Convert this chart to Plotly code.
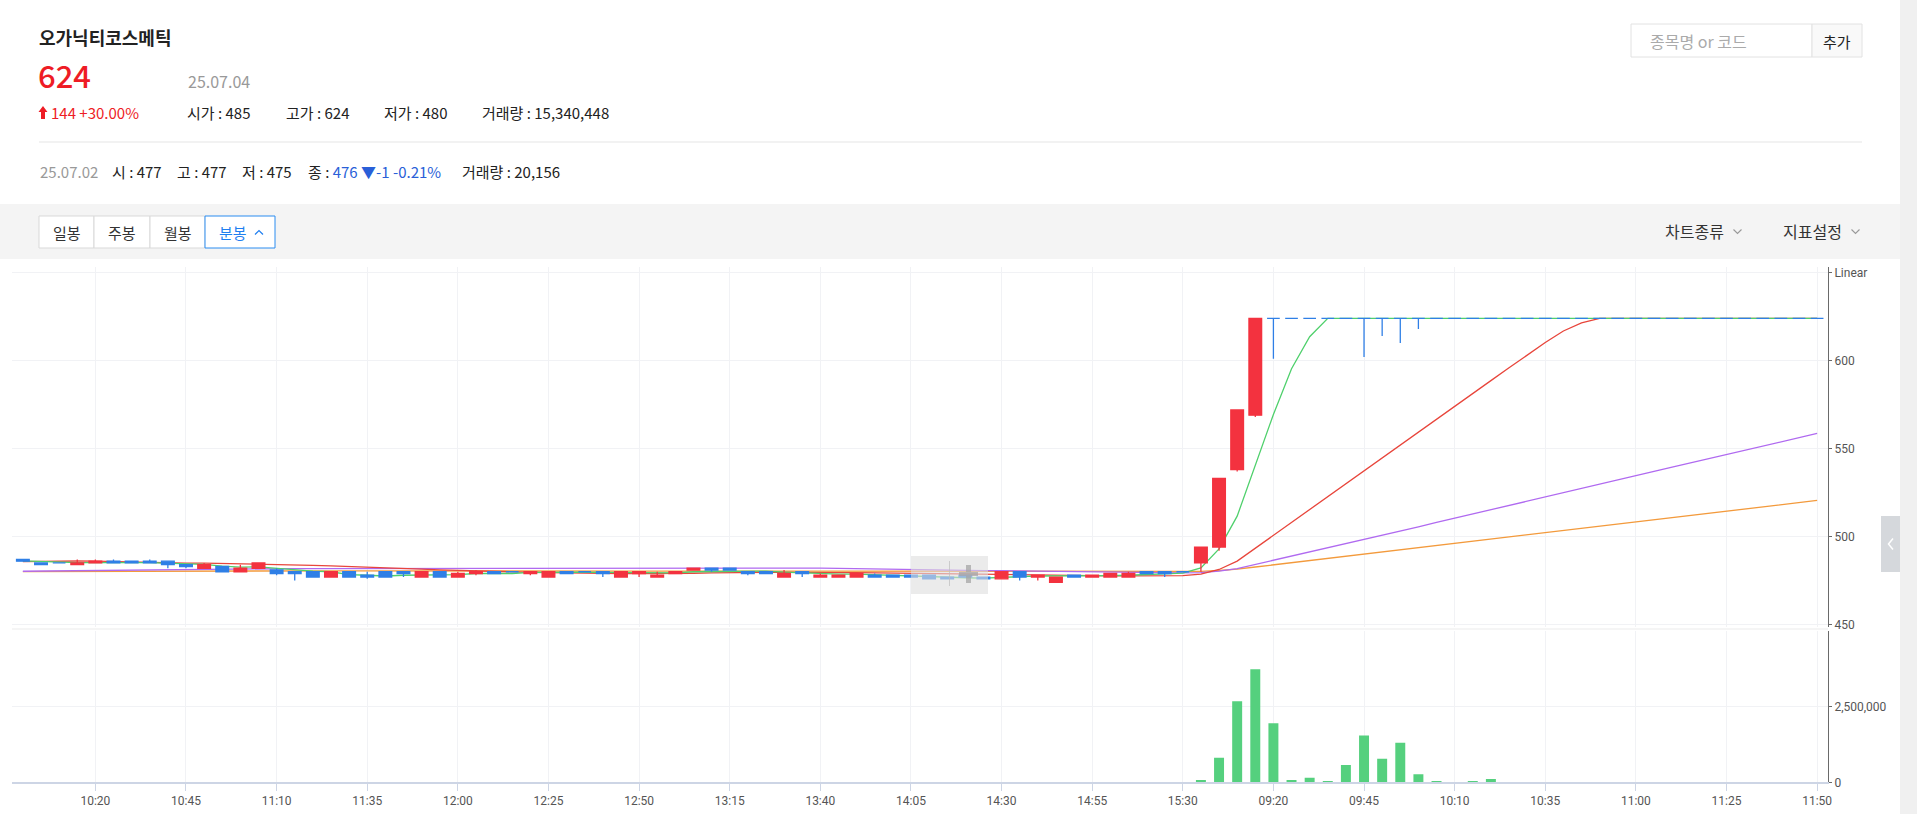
import plotly.graph_objects as go
import pandas as pd

W, H = 1917, 814
KR = "Noto Sans CJK KR"
NUM = "Roboto"

# ---------------- data ----------------
times = [
    "10:00", "10:05", "10:10", "10:15", "10:20", "10:25", "10:30", "10:35", "10:40", "10:45", "10:50", "10:55",
    "11:00", "11:05", "11:10", "11:15", "11:20", "11:25", "11:30", "11:35", "11:40", "11:45", "11:50", "11:55",
    "12:00", "12:05", "12:10", "12:15", "12:20", "12:25", "12:30", "12:35", "12:40", "12:45", "12:50", "12:55",
    "13:00", "13:05", "13:10", "13:15", "13:20", "13:25", "13:30", "13:35", "13:40", "13:45", "13:50", "13:55",
    "14:00", "14:05", "14:10", "14:15", "14:20", "14:25", "14:30", "14:35", "14:40", "14:45", "14:50", "14:55",
    "15:00", "15:05", "15:10", "15:15", "15:30",
    "09:00", "09:05", "09:10", "09:15", "09:20", "09:25", "09:30", "09:35", "09:40", "09:45", "09:50", "09:55",
    "10:00", "10:05", "10:10", "10:15", "10:20", "10:25", "10:30", "10:35", "10:40", "10:45", "10:50", "10:55",
    "11:00", "11:05", "11:10", "11:15", "11:20", "11:25", "11:30", "11:35", "11:40", "11:45", "11:50",
]

open_ = [
    487, 485, 485, 484, 485, 486, 486, 486, 486, 484,
    482, 483, 480, 482, 481, 480, 480, 477, 480, 478,
    480, 480, 477, 480, 477, 479, 480, 480, 479, 477,
    480, 480, 480, 477, 479, 477, 479, 481, 482, 482,
    480, 480, 477, 480, 477, 477, 477, 478, 478, 478,
    478, 477, 478, 477, 476, 480, 477, 474, 478, 477,
    477, 477, 480, 480, 480, 485, 494, 538, 569, 624,
    624, 624, 624, 624, 624, 624, 624, 624, 624, 624,
    624, 624, 624, 624, 624, 624, 624, 624, 624, 624,
    624, 624, 624, 624, 624, 624, 624, 624, 624, 624,
]
high = [
    487, 485, 485, 487, 487, 487, 486, 487, 486, 484,
    485, 483, 484, 485, 482, 480, 480, 480, 480, 480,
    480, 480, 480, 480, 480, 481, 480, 480, 480, 480,
    480, 480, 480, 480, 480, 480, 480, 482, 482, 482,
    480, 480, 481, 480, 479, 478, 479, 479, 478, 478,
    478, 477, 478, 477, 480, 480, 478, 477, 478, 478,
    479, 480, 480, 480, 480, 494, 533, 572, 624, 624,
    624, 624, 624, 624, 624, 624, 624, 624, 624, 624,
    624, 624, 624, 624, 624, 624, 624, 624, 624, 624,
    624, 624, 624, 624, 624, 624, 624, 624, 624, 624,
]
low = [
    486, 484, 485, 484, 485, 485, 485, 485, 482, 482,
    482, 480, 480, 482, 478, 475, 477, 477, 477, 476,
    477, 477, 477, 477, 477, 478, 479, 480, 478, 477,
    479, 480, 477, 477, 477, 477, 479, 481, 480, 481,
    478, 479, 477, 477, 477, 477, 477, 477, 477, 477,
    476, 476, 477, 476, 476, 475, 475, 474, 477, 477,
    477, 477, 479, 477, 480, 480, 492, 537, 568, 601,
    624, 624, 624, 624, 602, 614, 610, 618, 624, 624,
    624, 624, 624, 624, 624, 624, 624, 624, 624, 624,
    624, 624, 624, 624, 624, 624, 624, 624, 624, 624,
]
close = [
    486, 484, 485, 485, 486, 485, 485, 485, 484, 483,
    484, 480, 482, 485, 479, 479, 477, 480, 477, 477,
    477, 479, 480, 477, 479, 480, 479, 480, 480, 480,
    479, 480, 479, 480, 480, 478, 480, 482, 481, 481,
    479, 479, 479, 479, 478, 478, 479, 477, 477, 477,
    476, 476, 477, 476, 480, 477, 478, 477, 477, 478,
    479, 479, 479, 479, 480, 494, 533, 572, 624, 624,
    624, 624, 624, 624, 624, 624, 624, 624, 624, 624,
    624, 624, 624, 624, 624, 624, 624, 624, 624, 624,
    624, 624, 624, 624, 624, 624, 624, 624, 624, 624,
]
volume = [
    2100, 800, 300, 1200, 1500, 900, 400, 1100, 2600, 1400,
    1700, 3100, 1900, 2200, 2800, 1600, 2400, 1800, 2100, 1200,
    1500, 900, 1300, 1700, 1100, 800, 600, 200, 700, 1400,
    500, 200, 600, 1200, 900, 1000, 800, 1500, 700, 900,
    1100, 600, 1200, 800, 900, 700, 800, 500, 400, 600,
    900, 500, 700, 400, 1600, 1800, 1000, 1400, 600, 800,
    1100, 900, 500, 700, 1200, 80000, 810000, 2680000, 3740000, 1950000,
    80000, 150000, 20000, 570000, 1550000, 780000, 1310000, 270000, 15000, 10000,
    12000, 110000, 8000, 9000, 5000, 6000, 4000, 3000, 5000, 4000,
    6000, 3000, 4000, 2000, 3000, 5000, 4000, 3000, 2000, 3000,
]
# closes of the bars before the visible window (estimated from the MA levels at the left edge)
prior_close = [
    479, 480, 481, 480, 479, 480, 481, 482, 481, 480,
    479, 478, 479, 480, 481, 480, 479, 480, 481, 480,
    480, 479, 480, 481, 482, 481, 480, 479, 480, 480,
    481, 480, 479, 478, 479, 480, 481, 480, 480, 479,
    480, 481, 480, 479, 480, 481, 480, 479, 480, 480,
    479, 480, 481, 480, 479, 480, 481, 480, 479, 480,
    477, 478, 477, 476, 477, 478, 479, 478, 477, 476,
    477, 478, 478, 477, 477, 478, 479, 478, 477, 478,
    477, 476, 477, 478, 478, 477, 478, 479, 478, 477,
    478, 477, 477, 478, 479, 478, 477, 478, 477, 478,
    480, 482, 485, 488, 490, 491, 489, 487, 486, 485,
    484, 485, 484, 483, 485, 486, 487, 486, 486,
]
ma_periods = [120, 60, 20, 5]
ma_colors = ["#f39a3c", "#b06af0", "#e8463c", "#4fd06c"]

price_ticks = [450, 500, 550, 600, 650]
price_ticktext = ["450", "500", "550", "600", "Linear"]
vol_ticks = [0, 2500000]
vol_ticktext = ["0", "2,500,000"]

# ---------------- styling ----------------
RED = "#f3323f"
BLUE = "#2f7fe6"
VGREEN = "#55d07e"
GRID = "#f1f2f5"
PRICE_RANGE = [448.6, 653.5]
PRICE_DOMAIN = [1 - 627 / H, 1 - 266.5 / H]

x = list(range(len(times)))
up = [i for i in x if close[i] > open_[i]]
dn = [i for i in x if close[i] <= open_[i]]

fig = go.Figure()

series = pd.Series(prior_close + close, dtype=float)
n0 = len(prior_close)
for p, c in zip(ma_periods, ma_colors):
    ma = series.rolling(p).mean().iloc[n0:].tolist()
    fig.add_trace(go.Scatter(x=x, y=ma, mode="lines", line=dict(color=c, width=1.3),
                             hoverinfo="skip", showlegend=False, xaxis="x", yaxis="y"))


def candle(idx, color):
    return go.Candlestick(
        x=idx,
        open=[open_[i] for i in idx], high=[high[i] for i in idx],
        low=[low[i] for i in idx], close=[close[i] for i in idx],
        increasing=dict(line=dict(color=color, width=1.3), fillcolor=color),
        decreasing=dict(line=dict(color=color, width=1.3), fillcolor=color),
        whiskerwidth=0, hoverinfo="skip", showlegend=False,
        xaxis="x", yaxis="y3",
    )


fig.add_trace(candle(up, RED))
fig.add_trace(candle(dn, BLUE))

fig.add_trace(go.Bar(x=x, y=volume, width=0.55, marker=dict(color=VGREEN, line=dict(width=0)),
                     hoverinfo="skip", showlegend=False, xaxis="x2", yaxis="y2"))

tick_idx = x[4::5]
tick_txt = [times[i] for i in tick_idx]

XD = [12 / W, 1828 / W]
fig.update_layout(
    width=W, height=H, autosize=False,
    margin=dict(l=0, r=0, t=0, b=0, pad=0),
    paper_bgcolor="white", plot_bgcolor="white",
    boxgap=0.3, boxgroupgap=0,
    xaxis=dict(domain=XD, range=[-0.6, 99.6], anchor="y", tickvals=tick_idx, ticktext=tick_txt,
               showticklabels=False, ticks="", showgrid=True, gridcolor=GRID, zeroline=False,
               showline=False, automargin=False, rangeslider=dict(visible=False)),
    xaxis2=dict(domain=XD, range=[-0.6, 99.6], anchor="y2", matches="x", tickvals=tick_idx,
                ticktext=tick_txt, ticks="outside", ticklen=7, tickcolor="#cdd5e5",
                showline=True, linecolor="#cdd5e5", linewidth=1.5, showgrid=True, gridcolor=GRID,
                zeroline=False, automargin=False, tickfont=dict(family=NUM, size=12, color="#555")),
    yaxis=dict(domain=PRICE_DOMAIN, range=PRICE_RANGE, side="right", anchor="x",
               tickvals=price_ticks, ticktext=price_ticktext, showline=True, linecolor="#6a6a6a",
               ticks="outside", ticklen=3, tickcolor="#6a6a6a", showgrid=True, gridcolor=GRID,
               zeroline=False, automargin=False, tickfont=dict(family=NUM, size=12, color="#555")),
    yaxis3=dict(overlaying="y", range=PRICE_RANGE, side="right", anchor="x", visible=False,
                showgrid=False, zeroline=False, automargin=False),
    yaxis2=dict(domain=[1 - 782.3 / H, 1 - 631 / H], range=[0, 5000000], side="right", anchor="x2",
                tickvals=vol_ticks, ticktext=vol_ticktext, showline=True, linecolor="#6a6a6a",
                ticks="outside", ticklen=3, tickcolor="#6a6a6a", showgrid=True, gridcolor=GRID,
                zeroline=False, automargin=False, tickfont=dict(family=NUM, size=12, color="#555")),
)

# ---------------- page chrome ----------------
def px(v):
    return v / W


def py(v):
    return 1 - v / H


shapes = []


def rect(x0, y0, x1, y1, fill, line=None, lw=1, layer="below"):
    shapes.append(dict(type="rect", xref="paper", yref="paper", x0=px(x0), x1=px(x1), y0=py(y1), y1=py(y0),
                       fillcolor=fill, line=dict(color=line or fill, width=lw if line else 0), layer=layer))


def path(pts, color, fill=None, lw=1.2, layer="above"):
    d = "M " + " L ".join(f"{px(a):.6f},{py(b):.6f}" for a, b in pts)
    if fill:
        d += " Z"
    shapes.append(dict(type="path", xref="paper", yref="paper", path=d,
                       line=dict(color=color, width=lw if not fill else 0),
                       fillcolor=fill if fill else "rgba(0,0,0,0)", layer=layer))


annots = []


def text(xp, yp, s, size=15, color="#222", anchor="left", family=KR, weight=None):
    f = dict(family=family, size=size, color=color)
    if weight:
        f["weight"] = weight
    annots.append(dict(xref="paper", yref="paper", x=px(xp), y=py(yp), text=s, showarrow=False,
                       xanchor=anchor, yanchor="middle", font=f, borderpad=0))


# toolbar band and right strip
rect(0, 204, 1900, 259, "#f4f4f4")
rect(1900, 0, 1917, 814, "#f0f0f0")
# header separator
rect(39, 141.5, 1862, 142.5, "#e6e6e6")

# header texts
text(38, 37, "<b>오가닉티코스메틱</b>", size=18, color="#222")
text(37, 75, "624", size=31, color="#ee1c25", weight=500)
text(187, 81, "25.07.04", size=16, color="#999")
path([(43, 106), (47.5, 112), (45, 112), (45, 119), (41, 119), (41, 112), (38.5, 112)], "#ee1c25", fill="#ee1c25")
text(50, 113, "144 +30.00%", size=15, color="#ee1c25")
text(186, 113, "시가 : 485", size=15)
text(285, 113, "고가 : 624", size=15)
text(383, 113, "저가 : 480", size=15)
text(481, 113, "거래량 : 15,340,448", size=15)

text(39, 172, "25.07.02", size=15, color="#999")
text(111, 172, "시 : 477", size=15)
text(176, 172, "고 : 477", size=15)
text(241, 172, "저 : 475", size=15)
text(307, 172, "종 : <span style='color:#2a5fd8'>476 ▼-1 -0.21%</span>", size=15)
text(461, 172, "거래량 : 20,156", size=15)

# search box
rect(1631, 24, 1812, 57, "white", line="#e2e2e2")
rect(1812, 24, 1862, 57, "#f9f9f9", line="#e2e2e2")
text(1649, 41, "종목명 or 코드", size=16, color="#aaa")
text(1837, 41, "추가", size=15, color="#222", anchor="center")

# period buttons
for (a, b, lab) in [(39, 94, "일봉"), (94, 150, "주봉"), (150, 205, "월봉")]:
    rect(a, 216, b, 248, "white", line="#d9d9d9")
    text((a + b) / 2, 232, lab, size=15, color="#333", anchor="center")
rect(205, 216, 275, 248, "white", line="#2b8cf0")
text(218, 232, "분봉", size=15, color="#1f7ff0")
path([(255, 234.5), (259, 230.5), (263, 234.5)], "#1f7ff0", lw=1.2)

# right toolbar menus
text(1664, 231, "차트종류", size=16, color="#333")
path([(1733.5, 229.5), (1737.5, 233.5), (1741.5, 229.5)], "#999", lw=1.1)
text(1782, 231, "지표설정", size=16, color="#333")
path([(1851.5, 229.5), (1855.5, 233.5), (1859.5, 229.5)], "#999", lw=1.1)

# panel separator
rect(12, 628.5, 1828, 629.5, "#ececec")

# scroll handle overlay in the chart
rect(911, 556, 988, 594, "rgba(222,222,222,0.6)", layer="above")
rect(949, 561, 950, 586, "rgba(190,190,190,0.7)", layer="above")
rect(966, 565, 971, 583, "rgba(165,165,165,0.75)", layer="above")
rect(959, 572, 966, 576, "rgba(165,165,165,0.75)", layer="above")
rect(971, 572, 978, 576, "rgba(165,165,165,0.75)", layer="above")

# side tab
rect(1881, 516, 1900, 572, "#d5d8dc", layer="above")
path([(1893, 538.5), (1888.5, 544), (1893, 549.5)], "white", lw=1.5)

fig.update_layout(shapes=shapes, annotations=annots)

fig.write_html("out.html", config={"displayModeBar": False},
               post_script="document.body.style.margin='0';document.body.style.overflow='hidden';")
